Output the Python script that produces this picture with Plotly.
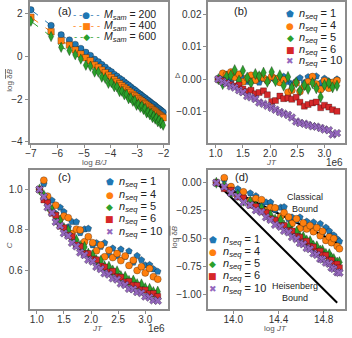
import plotly.graph_objects as go

# ---- panel (a): log dB vs log B/J for three sample sizes
log_bj = [-7.0, -6.24, -5.86, -5.55, -5.33, -5.12, -4.93, -4.76, -4.6, -4.46,
          -4.33, -4.2, -4.08, -3.97, -3.86, -3.76, -3.66, -3.57, -3.48, -3.4,
          -3.32, -3.24, -3.16, -3.09, -3.02, -2.95, -2.88, -2.82, -2.76, -2.7,
          -2.64, -2.58, -2.52, -2.47, -2.42, -2.37, -2.32, -2.27, -2.22, -2.17,
          -2.12, -2.07, -2.02]
msam_labels = ["200", "400", "600"]
dB_200 = [2.2, 1.46, 1.02, 0.78, 0.57, 0.38, 0.2, 0.05, -0.13, -0.25,
          -0.38, -0.5, -0.63, -0.72, -0.84, -0.93, -1.03, -1.1, -1.2, -1.28,
          -1.35, -1.43, -1.52, -1.57, -1.65, -1.72, -1.78, -1.84, -1.9, -1.95,
          -2.02, -2.07, -2.13, -2.18, -2.23, -2.27, -2.32, -2.38, -2.42, -2.47,
          -2.52, -2.57, -2.62]
dB_400 = [1.85, 1.16, 0.74, 0.54, 0.31, 0.12, -0.06, -0.2, -0.4, -0.51,
          -0.64, -0.76, -0.88, -0.99, -1.09, -1.2, -1.28, -1.37, -1.46, -1.54,
          -1.62, -1.69, -1.78, -1.84, -1.91, -1.98, -2.05, -2.1, -2.16, -2.22,
          -2.28, -2.34, -2.39, -2.44, -2.5, -2.54, -2.59, -2.64, -2.69, -2.74,
          -2.79, -2.83, -2.88]
dB_600 = [1.66, 0.94, 0.43, 0.28, 0.08, -0.12, -0.41, -0.46, -0.73, -0.73,
          -0.97, -1.02, -1.26, -1.22, -1.42, -1.42, -1.65, -1.63, -1.80, -1.77,
          -1.98, -1.94, -2.10, -2.07, -2.29, -2.24, -2.39, -2.32, -2.49, -2.45,
          -2.65, -2.60, -2.74, -2.67, -2.87, -2.79, -2.94, -2.88, -3.07, -2.98,
          -3.15, -3.10, -3.23]
dB_600_err = [0.15, 0.16, 0.18, 0.15, 0.17, 0.16, 0.18, 0.15, 0.17, 0.16,
              0.18, 0.17, 0.16, 0.18, 0.15, 0.17, 0.18, 0.16, 0.17, 0.15,
              0.18, 0.16, 0.17, 0.18, 0.15, 0.17, 0.16, 0.18, 0.17, 0.16,
              0.18, 0.15, 0.17, 0.16, 0.18, 0.17, 0.16, 0.18, 0.17, 0.15,
              0.18, 0.16, 0.17]

# ---- panels (b)-(d): five sequence counts
nseq_labels = ["1", "4", "5", "6", "10"]
jt = [1.05, 1.13, 1.20, 1.28, 1.35, 1.43, 1.50, 1.58, 1.65, 1.73,
      1.80, 1.88, 1.95, 2.03, 2.10, 2.18, 2.25, 2.33, 2.40, 2.48,
      2.55, 2.63, 2.70, 2.78, 2.85, 2.93, 3.00, 3.08, 3.15, 3.23]  # x 1e6
log_jt = [13.85, 13.92, 13.98, 14.04, 14.09, 14.15, 14.20, 14.25, 14.29, 14.33,
          14.37, 14.42, 14.45, 14.49, 14.52, 14.56, 14.59, 14.62, 14.65, 14.68,
          14.71, 14.74, 14.77, 14.79, 14.82, 14.85, 14.87, 14.89, 14.92, 14.94]

delta_1 = [0.0, 0.0008, 0.0004, -0.0006, 0.0010, -0.0002, 0.0003, -0.0008, 0.0005, -0.0004,
           -0.0010, 0.0002, -0.0006, 0.0003, -0.0002, 0.0006, 0.0008, -0.0008, -0.0015, -0.0006,
           0.0004, -0.0011, 0.0007, -0.0003, 0.0009, -0.0012, 0.0002, -0.0007, -0.0014, 0.0000]
delta_4 = [0.0, 0.0018, 0.0014, 0.0022, 0.0006, 0.0015, -0.0008, 0.0004, 0.0012, -0.0003,
           0.0010, 0.0004, -0.0004, 0.0008, 0.0002, -0.0010, -0.0002, -0.0040, -0.0034, -0.0012,
           -0.0038, -0.0022, -0.0008, 0.0008, -0.0015, -0.0032, -0.0005, -0.0028, -0.0010, -0.0004]
delta_5 = [0.0, -0.0015, 0.0008, 0.0012, 0.0028, -0.0004, 0.0026, 0.0005, -0.0012, 0.0016,
           0.0009, 0.0020, -0.0008, 0.0022, -0.0006, 0.0012, -0.0020, 0.0007, -0.0026, -0.0010,
           -0.0035, -0.0018, -0.0030, -0.0012, -0.0028, -0.0055, -0.0018, -0.0012, -0.0025, -0.0020]
delta_6 = [0.0, -0.0005, -0.0012, -0.0016, -0.0021, -0.0018, -0.0030, -0.0038, -0.0034, -0.0045,
           -0.0041, -0.0036, -0.0048, -0.0069, -0.0066, -0.0052, -0.0060, -0.0058, -0.0062, -0.0056,
           -0.0071, -0.0083, -0.0078, -0.0073, -0.0070, -0.0088, -0.0080, -0.0086, -0.0094, -0.0099]
delta_10 = [0.0, -0.0008, -0.0013, -0.0022, -0.0026, -0.0034, -0.0040, -0.0052, -0.0056, -0.0061,
            -0.0072, -0.0076, -0.0082, -0.0088, -0.0094, -0.0101, -0.0106, -0.0110, -0.0118, -0.0130,
            -0.0135, -0.0137, -0.0141, -0.0145, -0.0146, -0.0150, -0.0155, -0.0157, -0.0170, -0.0166]

C_1 = [1.000, 1.028, 0.954, 0.946, 0.880, 0.911, 0.889, 0.814, 0.840, 0.839,
       0.785, 0.803, 0.806, 0.724, 0.735, 0.716, 0.735, 0.675, 0.708, 0.670,
       0.703, 0.667, 0.694, 0.638, 0.671, 0.650, 0.624, 0.626, 0.605, 0.593]
C_4 = [1.000, 1.046, 0.967, 0.891, 0.922, 0.854, 0.868, 0.860, 0.781, 0.803,
       0.799, 0.741, 0.766, 0.736, 0.696, 0.725, 0.666, 0.699, 0.662, 0.682,
       0.647, 0.670, 0.623, 0.649, 0.598, 0.617, 0.586, 0.608, 0.567, 0.555]
C_5 = [1.000, 0.971, 0.918, 0.898, 0.852, 0.845, 0.809, 0.798, 0.756, 0.749,
       0.720, 0.715, 0.682, 0.674, 0.648, 0.646, 0.618, 0.617, 0.598, 0.594,
       0.570, 0.567, 0.546, 0.548, 0.530, 0.529, 0.510, 0.507, 0.491, 0.493]
C_6 = [1.000, 0.948, 0.934, 0.882, 0.872, 0.818, 0.810, 0.773, 0.766, 0.725,
       0.717, 0.682, 0.682, 0.654, 0.651, 0.620, 0.615, 0.590, 0.594, 0.567,
       0.564, 0.541, 0.543, 0.525, 0.524, 0.502, 0.501, 0.483, 0.484, 0.469]
C_10 = [1.000, 0.964, 0.912, 0.885, 0.839, 0.820, 0.783, 0.770, 0.735, 0.718,
        0.687, 0.675, 0.651, 0.643, 0.616, 0.605, 0.584, 0.578, 0.559, 0.553,
        0.533, 0.526, 0.507, 0.505, 0.491, 0.486, 0.469, 0.464, 0.450, 0.448]

logdB_1 = [0.0, 0.028, -0.047, -0.055, -0.128, -0.093, -0.118, -0.206, -0.174, -0.175,
           -0.242, -0.220, -0.216, -0.323, -0.308, -0.334, -0.308, -0.393, -0.345, -0.400,
           -0.352, -0.405, -0.366, -0.449, -0.399, -0.431, -0.471, -0.468, -0.502, -0.523]
logdB_4 = [0.0, 0.045, -0.034, -0.115, -0.081, -0.158, -0.141, -0.151, -0.247, -0.220,
           -0.224, -0.300, -0.267, -0.306, -0.363, -0.321, -0.406, -0.358, -0.412, -0.383,
           -0.436, -0.401, -0.473, -0.432, -0.514, -0.483, -0.534, -0.497, -0.567, -0.589]
logdB_5 = [0.0, -0.029, -0.086, -0.108, -0.160, -0.169, -0.212, -0.226, -0.280, -0.289,
           -0.328, -0.335, -0.383, -0.395, -0.434, -0.437, -0.482, -0.483, -0.515, -0.521,
           -0.562, -0.568, -0.605, -0.602, -0.635, -0.637, -0.673, -0.680, -0.712, -0.708]
logdB_6 = [0.0, -0.053, -0.068, -0.126, -0.137, -0.201, -0.211, -0.257, -0.267, -0.322,
           -0.333, -0.383, -0.382, -0.425, -0.430, -0.478, -0.486, -0.527, -0.521, -0.567,
           -0.573, -0.615, -0.610, -0.645, -0.647, -0.690, -0.691, -0.728, -0.725, -0.758]
logdB_10 = [0.0, -0.037, -0.092, -0.122, -0.175, -0.199, -0.245, -0.261, -0.308, -0.331,
            -0.375, -0.393, -0.429, -0.442, -0.485, -0.502, -0.538, -0.548, -0.582, -0.592,
            -0.630, -0.643, -0.679, -0.684, -0.712, -0.722, -0.757, -0.768, -0.798, -0.803]

bound_x = [13.85, 14.92]
classical_y = [0.0, -0.535]
heisenberg_y = [0.0, -1.07]

W, H = 352, 338
FONT = "Liberation Sans, Arial, sans-serif"
colors = ["#1f77b4", "#ff7f0e", "#2ca02c", "#d62728", "#9467bd"]
symbols = ["pentagon", "circle", "diamond-tall", "square", "x"]
sizes = [7, 7, 8, 6, 7]
glyphs = ["\u2b1f", "\u25cf", "\u25c6", "\u25a0", "\u2716"]
edge = dict(color="rgba(0,0,0,0.55)", width=0.5)


def px(x):
    return x / W


def py(y):
    return 1 - y / H


fig = go.Figure()

# (a)
for ys, col, sym, sz in zip([dB_200, dB_400, dB_600], colors[:3],
                            ["circle", "square", "diamond-tall"], [6.5, 6.5, 7.5]):
    err = dict(type="data", array=dB_600_err, color=col, thickness=1, width=0) if ys is dB_600 else None
    fig.add_trace(go.Scatter(x=log_bj, y=ys, mode="lines+markers",
                             line=dict(color=col, width=1, dash="dash"),
                             marker=dict(symbol=sym, size=sz, color=col, line=edge),
                             error_y=err, xaxis="x", yaxis="y", showlegend=False))

# (b), (c), (d)
deltas = [delta_1, delta_4, delta_5, delta_6, delta_10]
cs = [C_1, C_4, C_5, C_6, C_10]
logs = [logdB_1, logdB_4, logdB_5, logdB_6, logdB_10]
for i in range(5):
    mk = dict(symbol=symbols[i], size=sizes[i], color=colors[i], line=edge)
    fig.add_trace(go.Scatter(x=jt, y=deltas[i], mode="markers", marker=mk,
                             xaxis="x2", yaxis="y2", showlegend=False))
    fig.add_trace(go.Scatter(x=jt, y=cs[i], mode="markers", marker=mk,
                             xaxis="x3", yaxis="y3", showlegend=False))
for y_b in [classical_y, heisenberg_y]:
    fig.add_trace(go.Scatter(x=bound_x, y=y_b, mode="lines", line=dict(color="black", width=2),
                             xaxis="x4", yaxis="y4", showlegend=False))
for i in range(5):
    mk = dict(symbol=symbols[i], size=sizes[i], color=colors[i], line=edge)
    fig.add_trace(go.Scatter(x=log_jt, y=logs[i], mode="markers", marker=mk,
                             xaxis="x4", yaxis="y4", showlegend=False))


def axis(domain, rng, tickvals, fmt, anchor, standoff=0):
    return dict(domain=domain, range=rng, tickvals=tickvals, tickformat=fmt, anchor=anchor,
                showline=True, linecolor="#8c8c8c", linewidth=2, mirror=True,
                ticks="outside", ticklen=3, tickcolor="#8c8c8c", tickwidth=1,
                ticklabelstandoff=standoff, showgrid=False, zeroline=False,
                tickfont=dict(family=FONT, size=10, color="#333"))


top_y = [py(144), py(1.5)]
bot_y = [py(313), py(171.5)]
left_x = [px(26), px(166.5)]
right_x = [px(208), px(347)]

fig.update_layout(
    width=W, height=H, margin=dict(l=0, r=0, t=0, b=0),
    paper_bgcolor="white", plot_bgcolor="white",
    font=dict(family=FONT, size=10, color="#222"),
    xaxis=axis(left_x, [-7.05, -1.85], [-7, -6, -5, -4, -3, -2], "d", "y", -3),
    yaxis=axis(top_y, [-4.06, 2.54], [-4, -2, 0, 2], "d", "x"),
    xaxis2=axis(right_x, [0.868, 3.379], [1.0, 1.5, 2.0, 2.5, 3.0], ".1f", "y2", -3),
    yaxis2=axis(top_y, [-0.0196, 0.0236], [-0.02, -0.01, 0.0, 0.01, 0.02], ".2f", "x2"),
    xaxis3=axis(left_x, [0.867, 3.413], [1.0, 1.5, 2.0, 2.5, 3.0], ".1f", "y3", -3),
    yaxis3=axis(bot_y, [0.405, 1.097], [0.6, 0.8, 1.0], ".1f", "x3"),
    xaxis4=axis(right_x, [13.78, 14.99], [14.0, 14.4, 14.8], ".1f", "y4", -3),
    yaxis4=axis(bot_y, [-1.129, 0.114], [-1.0, -0.75, -0.5, -0.25, 0.0], ".2f", "x4"),
)

ann = []


def text(x, y, s, size=10, color="#222", angle=0, anchor="center", family=FONT):
    ann.append(dict(x=px(x), y=py(y), xref="paper", yref="paper", text=s, showarrow=False,
                    xanchor=anchor, yanchor="middle", textangle=angle,
                    font=dict(size=size, color=color, family=family)))


# panel letters
text(62, 10, "(a)", 11)
text(241, 10, "(b)", 11)
text(62, 179, "(c)", 11)
text(242, 179, "(d)", 11)

# axis titles
dbar = 'log <span style="text-decoration:overline">δ<i>B</i></span>'
text(92, 163.5, "log <i>B/J</i>", 8, "#555")
text(6, 80, dbar, 8, "#555", -90)
text(177.5, 76, "Δ", 8, "#555")
text(272, 163.5, "<i>JT</i>", 8, "#555")
text(347, 164, "1e6", 10, "#333", anchor="right")
text(5, 248, "<i>C</i>", 8, "#555", -90)
text(95, 332.5, "<i>JT</i>", 8, "#555")
text(166, 332.5, "1e6", 10, "#333", anchor="right")
text(173, 240, dbar, 8, "#555", -90)
text(276, 332.5, "log <i>JT</i>", 8, "#555")

# bound labels
text(306, 205, "Classical<br>Bound", 9)
text(296, 295, "Heisenberg<br>Bound", 9)

# legend (a)
for i, (lab, sym) in enumerate(zip(msam_labels, ["\u25cf", "\u25a0", "\u25c6"])):
    yy = 14.5 + 11 * i
    text(84, yy, f"- -{sym}- -", 9, colors[i], family="DejaVu Sans")
    text(100, yy, f"<i>M<sub>sam</sub></i> = {lab}", 10.5, anchor="left")

# legends (b), (c), (d)
for sx, tx, y0, dy in [(291, 298, 13, 12.1), (107.5, 115, 184, 12.5), (212.5, 221, 242.7, 12.3)]:
    for i, lab in enumerate(nseq_labels):
        yy = y0 + dy * i
        text(sx, yy, glyphs[i], 9, colors[i], family="DejaVu Sans")
        text(tx, yy, f"<i>n<sub>seq</sub></i> = {lab}", 11, anchor="left")

fig.update_layout(annotations=ann)
fig.write_html("out.html", config={"displayModeBar": False},
               post_script="document.body.style.margin='0';")
